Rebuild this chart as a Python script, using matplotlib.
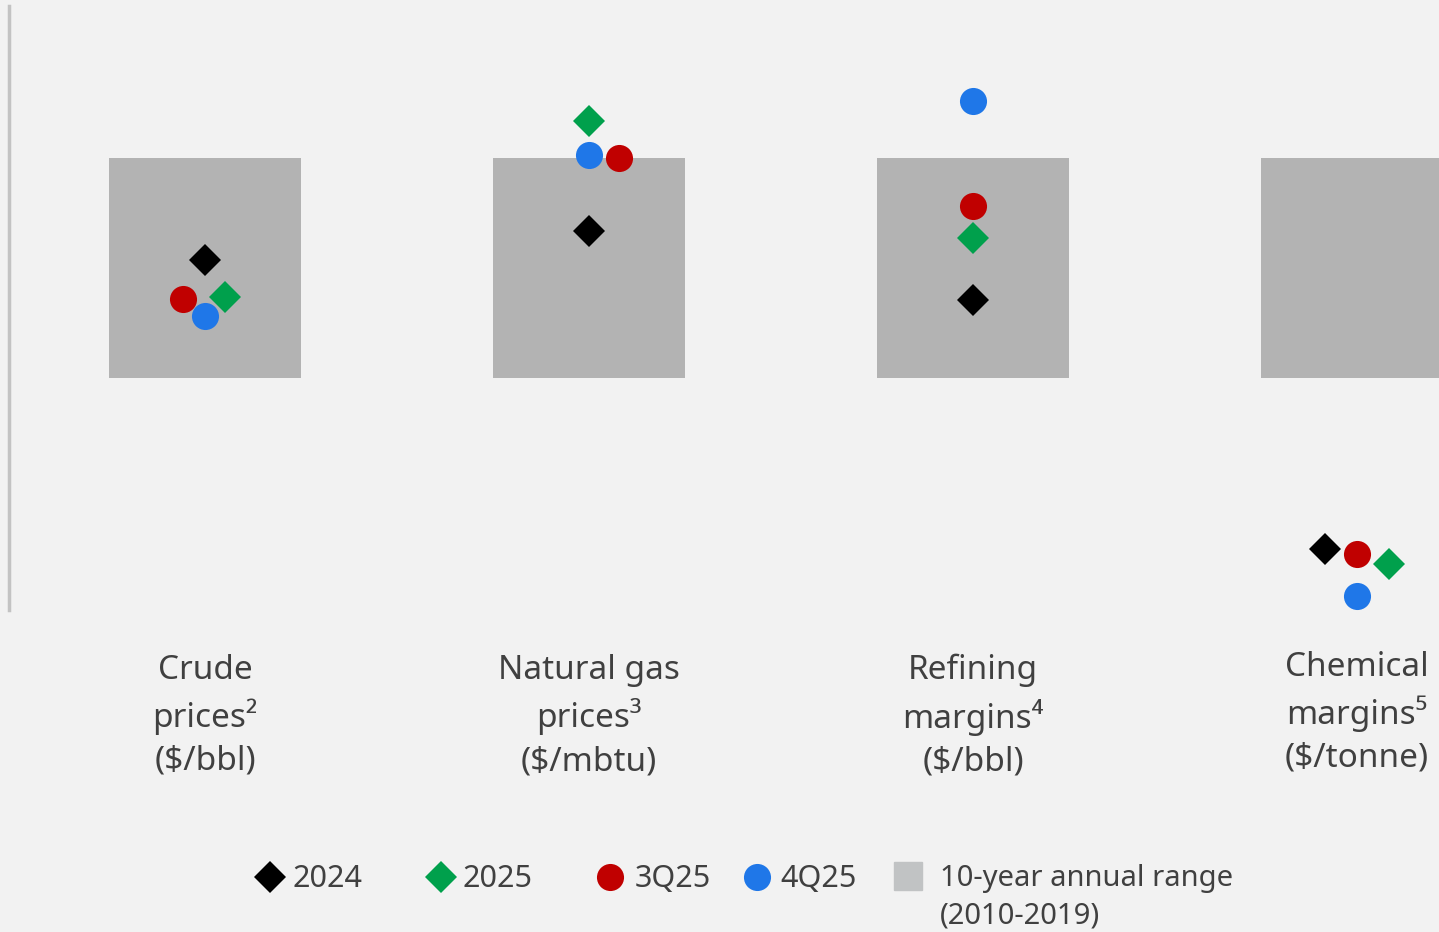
import numpy as np
import matplotlib.pyplot as plt
from matplotlib.lines import Line2D

plt.rcParams['font.family'] = ['Noto Sans', 'DejaVu Sans']

# categories
categories = ['Crude\nprices²\n($/bbl)', 'Natural gas\nprices³\n($/mbtu)',
              'Refining\nmargins⁴\n($/bbl)', 'Chemical\nmargins⁵\n($/tonne)']

# position relative to the 10-year annual range (0 = low end, 1 = high end)
range_low = [0, 0, 0, 0]
range_high = [1, 1, 1, 1]
val_2024 = [0.536, 0.668, 0.355, -0.777]
val_2025 = [0.368, 1.168, 0.636, -0.845]
val_3q25 = [0.359, 1.000, 0.782, -0.800]
val_4q25 = [0.282, 1.014, 1.259, -0.991]

# small sideways nudges so overlapping markers stay visible
nudge_2024 = [0, 0, 0, -0.083]
nudge_2025 = [0.052, 0, 0, 0.083]
nudge_3q25 = [-0.057, 0.078, 0, 0]
nudge_4q25 = [0, 0, 0, 0]

bg = '#f2f2f2'
txt = '#404040'
col_2024 = '#000000'
col_2025 = '#00a04c'
col_3q25 = '#c00000'
col_4q25 = '#1f77e8'
col_box = '#b3b3b3'

W, H = 1439, 932
fig = plt.figure(figsize=(W / 100, H / 100), dpi=100, facecolor=bg)
ax = fig.add_axes([0, 0, 1, 1])
ax.set_facecolor(bg)
ax.axis('off')

# map: category i centred at 205 + 384*i px, range box from 378px (0) to 158px (1)
ax.set_xlim(-205 / 384, (W - 205) / 384)
ax.set_ylim((378 - H) / 220, 378 / 220)

x = np.arange(len(categories))
ax.bar(x, np.array(range_high) - np.array(range_low), bottom=range_low,
       width=0.5, color=col_box, zorder=1)

series = [(val_2024, nudge_2024, 'D', 16.5, col_2024),
          (val_2025, nudge_2025, 'D', 16.5, col_2025),
          (val_3q25, nudge_3q25, 'o', 19.5, col_3q25),
          (val_4q25, nudge_4q25, 'o', 19.5, col_4q25)]
for vals, nud, mk, ms, c in series:
    ax.plot(x + np.array(nud), vals, linestyle='none', marker=mk, ms=ms,
            color=c, markeredgewidth=0, zorder=3)

# left rule
ax.axvline(-196 / 384, ymin=(H - 610) / H, ymax=(H - 6) / H, color='#c3c3c3', lw=2.5)

for i, lab in enumerate(categories):
    yy = (378 - 716) / 220 if i < 3 else (378 - 713) / 220
    ax.text(x[i], yy, lab, ha='center', va='center', fontsize=24,
            color=txt, linespacing=1.4)

# legend drawn by hand in figure pixels
leg_y = 1 - 877 / H
items = [(270, 293, 'D', 16.5, col_2024, '2024'),
         (441, 463, 'D', 16.5, col_2025, '2025'),
         (610, 635, 'o', 19.5, col_3q25, '3Q25'),
         (757, 780, 'o', 19.5, col_4q25, '4Q25')]
for mx, tx, mk, ms, c, lab in items:
    fig.add_artist(Line2D([mx / W], [leg_y], marker=mk, ms=ms, color=c,
                          markeredgewidth=0, linestyle='none',
                          transform=fig.transFigure))
    fig.text(tx / W, 1 - 879 / H, lab, ha='left', va='center', fontsize=22, color=txt)
fig.add_artist(plt.Rectangle((894 / W, 1 - 890 / H), 28 / W, 28 / H,
                             color='#c1c3c4', transform=fig.transFigure))
fig.text(940 / W, 1 - 897 / H, '10-year annual range\n(2010-2019)', ha='left',
         va='center', fontsize=21, color=txt, linespacing=1.38)

fig.savefig('out.png', dpi=100, facecolor=bg)
